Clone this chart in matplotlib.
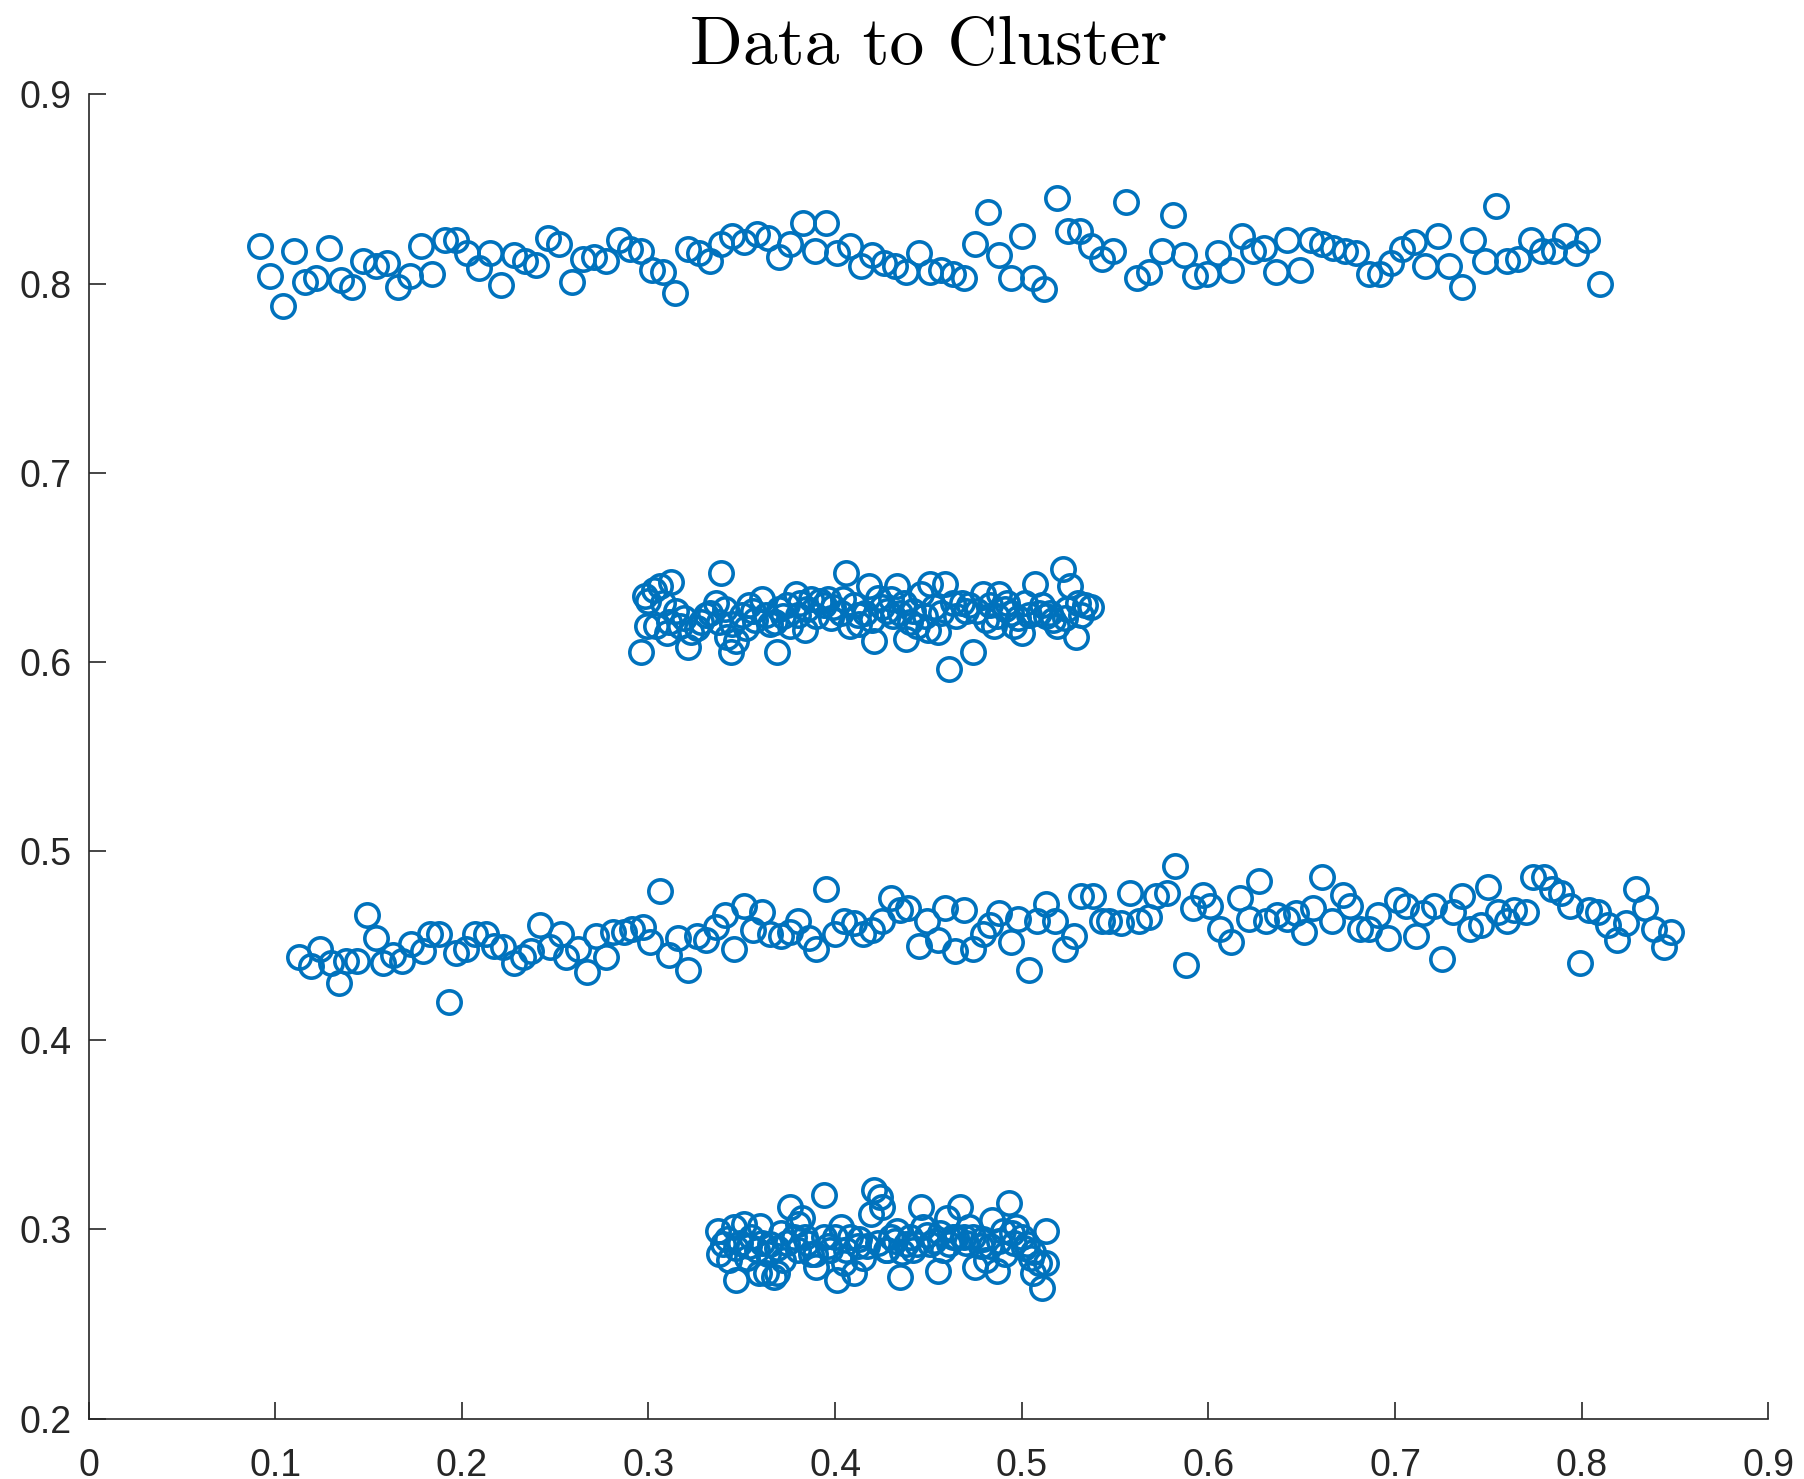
import matplotlib
matplotlib.use("Agg")
import matplotlib.pyplot as plt

# cluster 1 (top band, y ~ 0.81)
top_x = [0.092, 0.097, 0.104, 0.110, 0.116, 0.122, 0.129, 0.135, 0.141, 0.147,
         0.154, 0.160, 0.166, 0.172, 0.178, 0.184, 0.191, 0.197, 0.203, 0.209,
         0.215, 0.221, 0.228, 0.234, 0.240, 0.246, 0.252, 0.259, 0.265, 0.271,
         0.277, 0.284, 0.290, 0.296, 0.302, 0.308, 0.314, 0.321, 0.327, 0.333,
         0.339, 0.345, 0.351, 0.358, 0.364, 0.370, 0.376, 0.383, 0.389, 0.395,
         0.401, 0.408, 0.414, 0.420, 0.426, 0.432, 0.438, 0.445, 0.451, 0.457,
         0.463, 0.469, 0.475, 0.482, 0.488, 0.494, 0.500, 0.506, 0.512, 0.519,
         0.525, 0.531, 0.537, 0.543, 0.549, 0.556, 0.562, 0.568, 0.575, 0.581,
         0.587, 0.593, 0.599, 0.605, 0.612, 0.618, 0.624, 0.630, 0.636, 0.642,
         0.649, 0.655, 0.661, 0.667, 0.673, 0.679, 0.686, 0.692, 0.698, 0.704,
         0.710, 0.716, 0.723, 0.729, 0.736, 0.742, 0.748, 0.754, 0.760, 0.766,
         0.773, 0.779, 0.785, 0.791, 0.797, 0.803, 0.810]
top_y = [0.820, 0.804, 0.788, 0.817, 0.801, 0.803, 0.819, 0.802, 0.798, 0.812,
         0.809, 0.811, 0.798, 0.804, 0.820, 0.805, 0.823, 0.823, 0.816, 0.808,
         0.816, 0.799, 0.815, 0.812, 0.810, 0.824, 0.821, 0.801, 0.813, 0.814,
         0.812, 0.823, 0.818, 0.817, 0.807, 0.806, 0.795, 0.818, 0.816, 0.812,
         0.821, 0.825, 0.822, 0.826, 0.824, 0.814, 0.821, 0.832, 0.817, 0.832,
         0.816, 0.820, 0.809, 0.815, 0.811, 0.809, 0.806, 0.816, 0.806, 0.807,
         0.805, 0.803, 0.821, 0.838, 0.815, 0.803, 0.825, 0.803, 0.797, 0.845,
         0.828, 0.828, 0.820, 0.813, 0.817, 0.843, 0.803, 0.806, 0.817, 0.836,
         0.815, 0.804, 0.805, 0.816, 0.807, 0.825, 0.817, 0.819, 0.806, 0.823,
         0.807, 0.823, 0.821, 0.819, 0.817, 0.816, 0.805, 0.805, 0.811, 0.818,
         0.822, 0.809, 0.825, 0.809, 0.798, 0.823, 0.812, 0.841, 0.812, 0.813,
         0.823, 0.817, 0.817, 0.825, 0.816, 0.823, 0.800]

# cluster 2 (dense, y ~ 0.625)
mid_x = [0.296, 0.298, 0.299, 0.303, 0.306, 0.312, 0.308, 0.304, 0.310, 0.315,
         0.317, 0.321, 0.323, 0.328, 0.331, 0.336, 0.339, 0.338, 0.342, 0.344,
         0.347, 0.350, 0.354, 0.357, 0.361, 0.363, 0.369, 0.368, 0.372, 0.376,
         0.379, 0.381, 0.384, 0.387, 0.392, 0.396, 0.399, 0.403, 0.406, 0.408,
         0.412, 0.413, 0.418, 0.421, 0.423, 0.428, 0.430, 0.433, 0.437, 0.438,
         0.440, 0.444, 0.446, 0.451, 0.450, 0.455, 0.459, 0.461, 0.463, 0.468,
         0.472, 0.474, 0.479, 0.481, 0.485, 0.488, 0.491, 0.494, 0.496, 0.500,
         0.502, 0.507, 0.509, 0.513, 0.517, 0.519, 0.522, 0.524, 0.526, 0.529,
         0.530, 0.534, 0.537,
         0.300, 0.311, 0.319, 0.326, 0.333, 0.341, 0.345, 0.352, 0.356, 0.365,
         0.370, 0.374, 0.380, 0.385, 0.390, 0.394, 0.398, 0.404, 0.410, 0.416,
         0.420, 0.425, 0.431, 0.435, 0.442, 0.448, 0.453, 0.457, 0.465, 0.470,
         0.476, 0.483, 0.487, 0.492, 0.498, 0.504, 0.511, 0.515, 0.523, 0.532]
mid_y = [0.605, 0.635, 0.619, 0.638, 0.640, 0.642, 0.631, 0.619, 0.615, 0.627,
         0.619, 0.608, 0.616, 0.621, 0.625, 0.631, 0.647, 0.621, 0.613, 0.605,
         0.611, 0.625, 0.630, 0.622, 0.633, 0.625, 0.605, 0.621, 0.624, 0.619,
         0.636, 0.631, 0.617, 0.633, 0.632, 0.633, 0.629, 0.626, 0.647, 0.619,
         0.625, 0.620, 0.640, 0.611, 0.634, 0.627, 0.633, 0.640, 0.631, 0.612,
         0.621, 0.619, 0.636, 0.641, 0.617, 0.616, 0.641, 0.596, 0.631, 0.631,
         0.630, 0.605, 0.636, 0.622, 0.619, 0.636, 0.628, 0.626, 0.619, 0.615,
         0.631, 0.641, 0.626, 0.624, 0.622, 0.619, 0.649, 0.628, 0.640, 0.613,
         0.631, 0.630, 0.629,
         0.632, 0.621, 0.623, 0.618, 0.626, 0.628, 0.620, 0.618, 0.627, 0.620,
         0.628, 0.630, 0.625, 0.628, 0.624, 0.630, 0.623, 0.633, 0.630, 0.626,
         0.622, 0.629, 0.624, 0.626, 0.627, 0.624, 0.629, 0.626, 0.624, 0.627,
         0.627, 0.630, 0.624, 0.631, 0.623, 0.625, 0.630, 0.626, 0.623, 0.625]

# cluster 3 (long band, y ~ 0.46)
low_x = [0.113, 0.119, 0.124, 0.130, 0.134, 0.138, 0.144, 0.149, 0.154, 0.158,
         0.163, 0.168, 0.173, 0.179, 0.183, 0.188, 0.193, 0.197, 0.202, 0.207,
         0.213, 0.217, 0.222, 0.228, 0.233, 0.237, 0.242, 0.247, 0.253, 0.256,
         0.262, 0.267, 0.272, 0.277, 0.281, 0.287, 0.291, 0.297, 0.301, 0.306,
         0.311, 0.316, 0.321, 0.326, 0.331, 0.336, 0.341, 0.346, 0.351, 0.356,
         0.361, 0.365, 0.371, 0.376, 0.380, 0.386, 0.390, 0.395, 0.400, 0.405,
         0.410, 0.415, 0.420, 0.425, 0.430, 0.435, 0.439, 0.445, 0.449, 0.455,
         0.459, 0.464, 0.469, 0.474, 0.479, 0.483, 0.488, 0.494, 0.498, 0.504,
         0.508, 0.513, 0.518, 0.523, 0.528, 0.532, 0.538, 0.543, 0.547, 0.553,
         0.558, 0.563, 0.568, 0.572, 0.578, 0.582, 0.588, 0.592, 0.597, 0.601,
         0.606, 0.612, 0.617, 0.622, 0.627, 0.631, 0.637, 0.642, 0.647, 0.651,
         0.656, 0.661, 0.666, 0.672, 0.676, 0.681, 0.686, 0.691, 0.696, 0.701,
         0.706, 0.711, 0.715, 0.721, 0.725, 0.731, 0.736, 0.740, 0.746, 0.750,
         0.755, 0.760, 0.764, 0.770, 0.774, 0.780, 0.784, 0.789, 0.794, 0.799,
         0.804, 0.809, 0.814, 0.819, 0.824, 0.829, 0.834, 0.839, 0.844, 0.848]
low_y = [0.444, 0.439, 0.448, 0.441, 0.430, 0.442, 0.442, 0.466, 0.454, 0.441,
         0.445, 0.442, 0.451, 0.447, 0.456, 0.456, 0.420, 0.446, 0.448, 0.456,
         0.456, 0.450, 0.449, 0.441, 0.444, 0.447, 0.461, 0.449, 0.456, 0.444,
         0.448, 0.436, 0.455, 0.444, 0.457, 0.457, 0.459, 0.460, 0.452, 0.479,
         0.445, 0.454, 0.437, 0.455, 0.453, 0.460, 0.466, 0.448, 0.471, 0.458,
         0.468, 0.456, 0.455, 0.457, 0.463, 0.454, 0.448, 0.480, 0.456, 0.463,
         0.462, 0.456, 0.458, 0.463, 0.475, 0.469, 0.470, 0.450, 0.463, 0.453,
         0.470, 0.447, 0.469, 0.448, 0.456, 0.461, 0.467, 0.452, 0.464, 0.437,
         0.463, 0.472, 0.463, 0.448, 0.455, 0.476, 0.476, 0.463, 0.463, 0.462,
         0.478, 0.463, 0.465, 0.476, 0.478, 0.492, 0.440, 0.470, 0.477, 0.471,
         0.459, 0.452, 0.475, 0.464, 0.484, 0.463, 0.466, 0.464, 0.467, 0.457,
         0.470, 0.486, 0.463, 0.477, 0.471, 0.459, 0.459, 0.466, 0.454, 0.474,
         0.471, 0.455, 0.467, 0.471, 0.443, 0.468, 0.476, 0.459, 0.461, 0.481,
         0.468, 0.463, 0.469, 0.468, 0.486, 0.486, 0.480, 0.478, 0.471, 0.441,
         0.469, 0.468, 0.461, 0.453, 0.462, 0.480, 0.470, 0.459, 0.449, 0.457]

# cluster 4 (dense, y ~ 0.29)
bot_x = [0.337, 0.338, 0.340, 0.343, 0.346, 0.347, 0.349, 0.351, 0.353, 0.355,
         0.358, 0.359, 0.360, 0.363, 0.365, 0.367, 0.369, 0.371, 0.372, 0.376,
         0.378, 0.380, 0.382, 0.384, 0.387, 0.390, 0.394, 0.394, 0.397, 0.401,
         0.403, 0.405, 0.408, 0.410, 0.412, 0.415, 0.419, 0.421, 0.424, 0.425,
         0.427, 0.430, 0.433, 0.435, 0.438, 0.442, 0.446, 0.447, 0.451, 0.455,
         0.458, 0.460, 0.463, 0.467, 0.469, 0.472, 0.475, 0.478, 0.481, 0.484,
         0.487, 0.490, 0.493, 0.495, 0.497, 0.500, 0.503, 0.505, 0.506, 0.509,
         0.511, 0.513, 0.513,
         0.342, 0.347, 0.354, 0.361, 0.364, 0.369, 0.374, 0.380, 0.385, 0.389,
         0.396, 0.400, 0.406, 0.413, 0.417, 0.423, 0.428, 0.432, 0.436, 0.440,
         0.444, 0.449, 0.453, 0.456, 0.461, 0.465, 0.470, 0.474, 0.479, 0.483,
         0.488, 0.491, 0.496, 0.501, 0.506]
bot_y = [0.299, 0.287, 0.292, 0.284, 0.301, 0.273, 0.293, 0.303, 0.285, 0.296,
         0.289, 0.277, 0.302, 0.277, 0.292, 0.275, 0.277, 0.298, 0.284, 0.312,
         0.296, 0.303, 0.306, 0.296, 0.287, 0.280, 0.318, 0.296, 0.289, 0.273,
         0.301, 0.282, 0.296, 0.277, 0.291, 0.285, 0.308, 0.321, 0.317, 0.312,
         0.289, 0.296, 0.299, 0.275, 0.292, 0.289, 0.312, 0.301, 0.292, 0.278,
         0.289, 0.306, 0.296, 0.312, 0.296, 0.301, 0.280, 0.291, 0.284, 0.305,
         0.278, 0.299, 0.314, 0.298, 0.301, 0.296, 0.292, 0.285, 0.277, 0.282,
         0.269, 0.299, 0.282,
         0.295, 0.290, 0.291, 0.293, 0.287, 0.290, 0.293, 0.289, 0.293, 0.287,
         0.291, 0.296, 0.289, 0.295, 0.291, 0.293, 0.289, 0.294, 0.288, 0.296,
         0.292, 0.297, 0.294, 0.298, 0.292, 0.296, 0.293, 0.296, 0.295, 0.291,
         0.294, 0.287, 0.293, 0.290, 0.288]

x_ticks = [0, 0.1, 0.2, 0.3, 0.4, 0.5, 0.6, 0.7, 0.8, 0.9]
y_ticks = [0.2, 0.3, 0.4, 0.5, 0.6, 0.7, 0.8, 0.9]

blue = "#0072BD"
axis_color = "#262626"

plt.rcParams['font.family'] = ['Liberation Sans', 'DejaVu Sans']

fig = plt.figure(figsize=(18.04, 14.79), dpi=100)
ax = fig.add_axes([0.0491, 0.0409, 0.9311, 0.8953])

for xs, ys in [(top_x, top_y), (mid_x, mid_y), (low_x, low_y), (bot_x, bot_y)]:
    ax.plot(xs, ys, linestyle="none", marker="o", markersize=16.8,
            markerfacecolor="none", markeredgecolor=blue, markeredgewidth=2.6)

ax.set_xlim(0, 0.9)
ax.set_ylim(0.2, 0.9)
ax.set_xticks(x_ticks)
ax.set_yticks(y_ticks)
ax.set_xticklabels([f"{v:g}" for v in x_ticks])
ax.set_yticklabels([f"{v:g}" for v in y_ticks])

ax.spines["top"].set_visible(False)
ax.spines["right"].set_visible(False)
for side in ["left", "bottom"]:
    ax.spines[side].set_color(axis_color)
    ax.spines[side].set_linewidth(1.2)
ax.tick_params(direction="in", length=12, width=1.2, colors=axis_color,
               labelsize=27, pad=12)
ax.tick_params(axis="x", pad=21)

ax.set_title("Data to Cluster", fontfamily="cmr10", fontsize=50, pad=22,
             color="black")

fig.savefig("out.png", dpi=100)
